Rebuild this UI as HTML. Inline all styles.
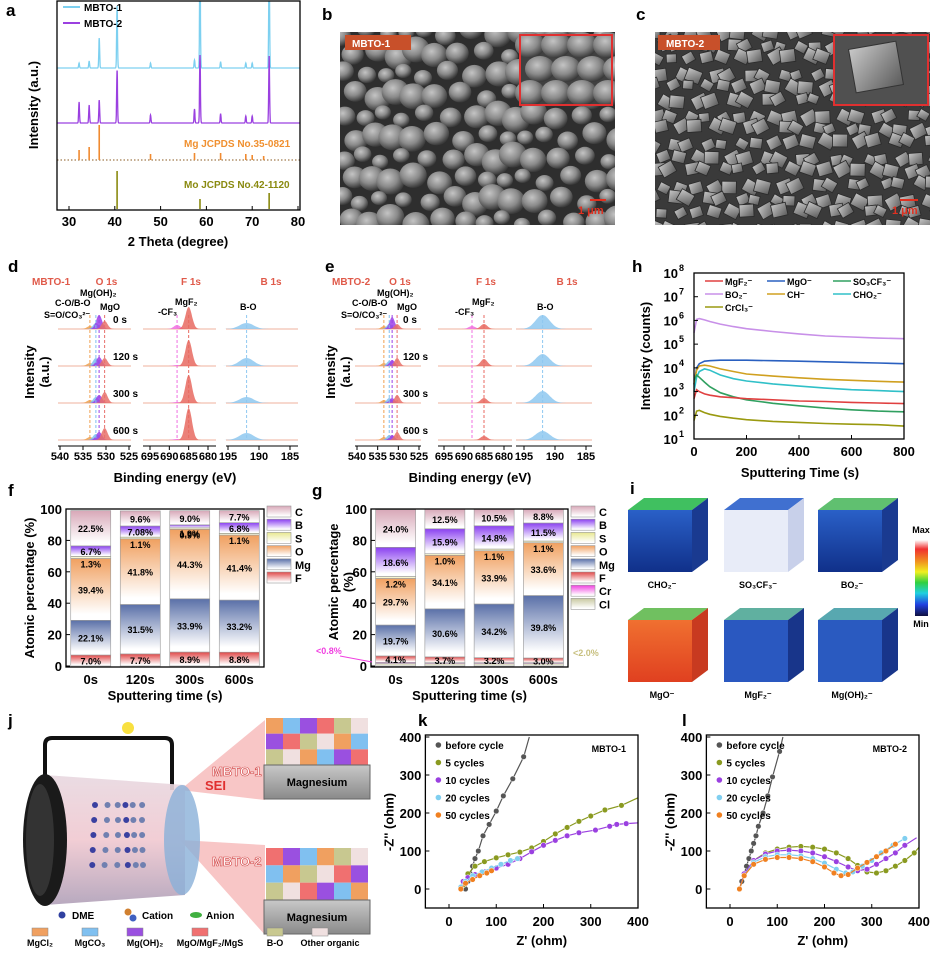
<!DOCTYPE html>
<html><head><meta charset="utf-8">
<style>
body{margin:0;background:#fff}
svg{font-family:"Liberation Sans",Arial,sans-serif;font-weight:bold;display:block}
</style></head>
<body>
<svg id="fig" width="952" height="963" viewBox="0 0 952 963" xmlns="http://www.w3.org/2000/svg">
<defs>
  <radialGradient id="grain" cx="40%" cy="35%" r="65%"><stop offset="0" stop-color="#c4c4c4"/><stop offset="0.55" stop-color="#8a8a8a"/><stop offset="1" stop-color="#3a3a3a"/></radialGradient>
  <linearGradient id="cryst" x1="0" y1="0" x2="1" y2="1"><stop offset="0" stop-color="#c8c8c8"/><stop offset="1" stop-color="#5a5a5a"/></linearGradient>
  <linearGradient id="cbar" x1="0" y1="0" x2="0" y2="1"><stop offset="0" stop-color="#fff"/><stop offset="0.12" stop-color="#f03030"/><stop offset="0.28" stop-color="#f09020"/><stop offset="0.42" stop-color="#f0f020"/><stop offset="0.56" stop-color="#30d040"/><stop offset="0.7" stop-color="#20d0e0"/><stop offset="0.85" stop-color="#2040e0"/><stop offset="1" stop-color="#101040"/></linearGradient>
  <linearGradient id="cubeBlue" x1="0" y1="0" x2="0" y2="1"><stop offset="0" stop-color="#2a60c8"/><stop offset="1" stop-color="#10308a"/></linearGradient>
  <linearGradient id="cubeRed" x1="0" y1="0" x2="0" y2="1"><stop offset="0" stop-color="#f07030"/><stop offset="1" stop-color="#e04020"/></linearGradient>
  <linearGradient id="cyl" x1="0" y1="0" x2="0" y2="1"><stop offset="0" stop-color="#e8d8e0"/><stop offset="0.5" stop-color="#f0c8d0"/><stop offset="1" stop-color="#b0a0b8"/></linearGradient>
  <linearGradient id="mgblock" x1="0" y1="0" x2="0" y2="1"><stop offset="0" stop-color="#c8c8c8"/><stop offset="1" stop-color="#8a8a8a"/></linearGradient>
  <clipPath id="clipB"><rect x="340" y="32" width="275" height="193"/></clipPath>
  <clipPath id="clipC"><rect x="655" y="32" width="275" height="193"/></clipPath>
  <clipPath id="clipA"><rect x="57" y="1" width="243" height="209"/></clipPath>
</defs>
<g id="root"></g>
</svg>
<script>
const NS='http://www.w3.org/2000/svg';
const svg=document.getElementById('root');
function mk(tag,attrs,parent){const e=document.createElementNS(NS,tag);for(const k in attrs)e.setAttribute(k,attrs[k]);(parent||svg).appendChild(e);return e;}
function tx(s,x,y,attrs,parent){const a=Object.assign({x:x,y:y,'font-size':12,fill:'#000'},attrs||{});const e=mk('text',a,parent);e.textContent=s;return e;}
function fmt(v){return Number.isInteger(Math.round(v*100)/10)?v.toFixed(1):String(v);}

/* ================= DATA ================= */
const xrdPeakPos=[32.2,34.4,36.6,40.5,47.8,57.4,58.6,63.1,68.6,70.0,73.7];
const xrd1Heights=[5,7,30,63,5,8,110,6,5,5,110];
const xrd2Heights=[21,18,23,53,8,14,68,9,7,7,68];
const mgRefPos=[32.2,34.4,36.6,47.8,57.4,63.1,68.6,70.0,72.5];
const mgRefInt=[10,13,35,6,7,7,6,5,4];
const moRefPos=[40.5,58.6,73.7];
const moRefInt=[38,10,16];
const xrdTicks=[30,40,50,60,70,80];
const xpsRowLabels=['0 s','120 s','300 s','600 s'];
const o1sCenters=[533.5,532.2,531.5,530.3];
const f1sCenters=[688,685];
const b1sCenters=[192];
const dO1sHeights=[[3,6,14,8],[3,8,9,8],[3,6,8,11],[3,6,8,12]];
const dF1sHeights=[[4,22],[1,26],[1,28],[1,32]];
const dB1sHeights=[[6],[8],[6],[7]];
const eO1sHeights=[[3,5,12,5],[3,5,6,8],[3,5,5,8],[3,5,5,8]];
const eF1sHeights=[[3,5],[0,7],[0,5],[0,4]];
const eB1sHeights=[[14],[12],[12],[9]];
const tofTimes=[0,10,20,40,60,100,150,200,300,400,500,600,700,800];
const tofMgF2=[500,1200,1000,800,700,600,550,500,450,400,380,350,330,310];
const tofMgO=[2000,10000,15000,19000,20000,21000,21000,21000,20000,19000,18000,17000,16000,15000];
const tofSO3CF3=[3000,5000,4000,2500,1600,900,600,450,320,250,200,170,150,140];
const tofBO2=[300000,1100000,1200000,1050000,900000,700000,550000,450000,340000,270000,220000,200000,180000,170000];
const tofCH=[2000,8000,12000,13000,12000,9000,7000,5500,4500,3800,3300,3000,2700,2500];
const tofCHO2=[1000,4000,7000,9000,8000,5000,3500,2800,2100,1700,1400,1200,1100,1000];
const tofCrCl3=[60,150,160,130,110,90,75,65,55,50,45,42,40,35];
const tofXTicks=[0,200,400,600,800];
const tofYTicks=[1,2,3,4,5,6,7,8];
const sputterCats=['0s','120s','300s','600s'];
const fF=[7.0,7.7,8.9,8.8], fMg=[22.1,31.5,33.9,33.2], fO=[39.4,41.8,44.3,41.4], fS=[1.3,1.1,0.9,1.1], fB=[6.7,7.08,1.9,6.8], fC=[22.5,9.6,9.0,7.7];
const gCl=[1.5,1.5,1.5,1.5], gCr=[0.8,0.6,0.6,0.6], gF=[4.1,3.7,3.2,3.0], gMg=[19.7,30.6,34.2,39.8], gO=[29.7,34.1,33.9,33.6], gS=[1.2,1.0,1.1,1.1], gB=[18.6,15.9,14.8,11.5], gC=[24.0,12.5,10.5,8.8];
const pctTicks=[0,20,40,60,80,100];
const eisNames=['before cycle','5 cycles','10 cycles','20 cycles','50 cycles'];
const kBefore=[[35,0],[40,20],[45,40],[50,60],[55,80],[62,100],[72,140],[85,170],[100,205],[115,245],[135,290],[158,348],[170,400]];
const k5=[[30,10],[40,40],[55,60],[75,72],[100,82],[125,90],[150,97],[175,108],[200,125],[225,145],[250,162],[275,178],[300,192],[330,208],[365,220],[400,240]];
const k10=[[30,20],[40,30],[55,38],[75,45],[100,55],[125,65],[150,80],[175,98],[200,115],[225,128],[250,140],[275,148],[310,155],[340,165],[355,170],[375,172],[400,174]];
const k20=[[25,5],[35,20],[50,35],[70,45],[90,55],[110,65],[130,75],[145,80]];
const k50=[[25,0],[35,15],[50,25],[65,35],[80,42],[90,48]];
const lBefore=[[20,0],[25,20],[30,40],[35,60],[40,80],[45,100],[50,120],[55,140],[60,165],[70,200],[80,245],[90,295],[105,362],[112,400]];
const l5=[[20,0],[30,40],[50,75],[75,95],[100,105],[125,110],[150,112],[175,110],[200,105],[225,95],[250,80],[270,62],[290,45],[310,42],[330,48],[350,60],[370,75],[390,95],[400,110]];
const l10=[[20,0],[30,40],[50,75],[75,92],[100,100],[125,102],[150,100],[175,95],[200,85],[225,72],[250,58],[270,48],[290,52],[310,65],[330,80],[350,95],[370,115],[395,135]];
const l20=[[20,0],[30,35],[50,70],[75,85],[100,90],[125,90],[150,87],[175,80],[200,68],[225,52],[245,42],[260,45],[280,60],[300,75],[320,95],[345,115],[370,133]];
const l50=[[20,0],[30,35],[50,65],[75,78],[100,83],[125,83],[150,80],[175,72],[200,58],[220,42],[235,35],[250,38],[270,55],[290,70],[310,85],[330,100],[350,118]];
const eisXTicks=[0,100,200,300,400];
const eisYTicks=[0,100,200,300,400];

/* ================= PANEL LETTERS ================= */
const letters=[['a',6,16],['b',322,20],['c',636,20],['d',8,272],['e',325,272],['h',632,272],['f',8,496],['g',312,496],['i',630,494],['j',8,726],['k',418,726],['l',682,726]];
letters.forEach(l=>{const t=tx(l[0],l[1],l[2],{'font-size':17});

});

/* ================= PANEL A ================= */
(function(){
const g=mk('g',{});


const ax=v=>69+(v-30)*4.58;
function trace(base,heights,color,name){
  let d='';
  for(let x=27.4;x<=80.4;x+=0.04){let y=base;xrdPeakPos.forEach((p,i)=>{y-=heights[i]*Math.exp(-Math.pow((x-p)/0.13,2));});d+=(d?'L':'M')+ax(x).toFixed(1)+','+y.toFixed(1);}
  const p=mk('path',{d:d,fill:'none',stroke:color,'stroke-width':1.3,'clip-path':'url(#clipA)'},g);
  
  
}
trace(68,xrd1Heights,'#7dd0f0','mbto1-xrd-trace');
trace(123,xrd2Heights,'#9b40e0','mbto2-xrd-trace');
const dl=mk('line',{x1:57,x2:300,y1:160,y2:160,stroke:'#8a5a20','stroke-width':1,'stroke-dasharray':'1.5,2'},g);


mgRefPos.forEach((p,i)=>{const b=mk('line',{x1:ax(p),x2:ax(p),y1:160,y2:160-mgRefInt[i],stroke:'#f08a30','stroke-width':1.6},g);

});
moRefPos.forEach((p,i)=>{const b=mk('line',{x1:ax(p),x2:ax(p),y1:209,y2:209-moRefInt[i],stroke:'#8a8a10','stroke-width':1.6},g);

});
const fr=mk('rect',{x:57,y:1,width:243,height:209,fill:'none',stroke:'#000','stroke-width':1.3},g);


xrdTicks.forEach(v=>{mk('line',{x1:ax(v),x2:ax(v),y1:210,y2:206,stroke:'#000'},g);
const t=tx(String(v),ax(v),226,{'font-size':13,'text-anchor':'middle'},g);

});
let t=tx('2 Theta (degree)',178,246,{'font-size':13,'text-anchor':'middle'},g);


t=tx('Intensity (a.u.)',0,0,{'font-size':13,'text-anchor':'middle',transform:'translate(38,105) rotate(-90)'},g);


mk('line',{x1:63,x2:80,y1:7,y2:7,stroke:'#7dd0f0','stroke-width':2},g);
t=tx('MBTO-1',84,11,{'font-size':10},g);


mk('line',{x1:63,x2:80,y1:23,y2:23,stroke:'#9b40e0','stroke-width':2},g);
t=tx('MBTO-2',84,27,{'font-size':10},g);


t=tx('Mg JCPDS No.35-0821',184,147,{'font-size':10,fill:'#f09030'},g);


t=tx('Mo JCPDS No.42-1120',184,188,{'font-size':10,fill:'#8a8a10'},g);


})();

/* ================= SEM b,c ================= */
(function(){
const gb=mk('g',{'clip-path':'url(#clipB)'});


mk('rect',{x:340,y:32,width:275,height:193,fill:'#2e2e2e'},gb);
for(let i=0;i<10;i++)for(let j=0;j<13;j++){
  const cx=340+j*22+(i%2)*11+5*Math.sin(i*12.9+j*7.3), cy=32+i*21+4*Math.cos(i*5.1+j*3.7);
  const r=10+3*Math.sin(i*3.1+j*5.7);
  mk('ellipse',{cx:cx,cy:cy,rx:r+1,ry:r,fill:'url(#grain)'},gb);}
mk('rect',{x:345,y:35,width:66,height:15,fill:'#c8502a'},gb);
let t=tx('MBTO-1',352,47,{'font-size':10,fill:'#fff'},gb);


mk('rect',{x:520,y:35,width:92,height:70,fill:'#404040'},gb);
for(let i=0;i<3;i++)for(let j=0;j<4;j++){mk('ellipse',{cx:530+j*26+(i%2)*10,cy:45+i*24,rx:15,ry:13,fill:'url(#grain)'},gb);}
mk('rect',{x:520,y:35,width:92,height:70,fill:'none',stroke:'#e03030','stroke-width':2},gb);
mk('line',{x1:590,x2:606,y1:200,y2:200,stroke:'#e03020','stroke-width':2},gb);
t=tx('1 μm',578,214,{'font-size':11,fill:'#e03020'},gb);



const gc=mk('g',{'clip-path':'url(#clipC)'});


mk('rect',{x:655,y:32,width:275,height:193,fill:'#3a3a3a'},gc);
for(let i=0;i<15;i++)for(let j=0;j<17;j++){
  const cx=655+j*17+(i%2)*8+4*Math.sin(i*7.7+j*3.3), cy=32+i*14+3*Math.cos(i*2.3+j*6.1);
  const s=10+5*Math.abs(Math.sin(i*1.7+j*2.9)); const rot=30*Math.sin(i*4.1+j*1.3);
  mk('rect',{x:cx-s/2,y:cy-s/2,width:s,height:s*0.85,fill:'url(#cryst)',stroke:'#2a2a2a','stroke-width':0.8,transform:'rotate('+rot.toFixed(1)+' '+cx.toFixed(1)+' '+cy.toFixed(1)+')'},gc);}
mk('rect',{x:658,y:35,width:62,height:15,fill:'#c8502a'},gc);
t=tx('MBTO-2',666,47,{'font-size':10,fill:'#fff'},gc);


mk('rect',{x:834,y:35,width:94,height:70,fill:'#505050'},gc);
mk('rect',{x:852,y:45,width:48,height:44,fill:'url(#cryst)',stroke:'#333',transform:'rotate(-10 876 67)'},gc);
mk('rect',{x:834,y:35,width:94,height:70,fill:'none',stroke:'#e03030','stroke-width':2},gc);
mk('line',{x1:900,x2:918,y1:200,y2:200,stroke:'#e03020','stroke-width':2},gc);
t=tx('1 μm',892,214,{'font-size':11,fill:'#e03020'},gc);


})();

/* ================= PANELS d/e ================= */
function xpsPanel(prefix,title,titleX,subs,rowsY){
  const g=mk('g',{});
  
  
  let t=tx(title,titleX,285,{'font-size':10,fill:'#e05a4a'},g);
  
  
  subs.forEach(s=>{
    const map=v=>s.x0+(s.e0-v)/(s.e0-s.e1)*(s.x1-s.x0);
    t=tx(s.name,(s.x0+s.x1)/2+12,285,{'font-size':10,fill:'#e05a4a','text-anchor':'middle'},g);
    
    
    rowsY.forEach((by,r)=>{
      mk('line',{x1:s.ax0,x2:s.ax1,y1:by,y2:by,stroke:'#f2c0b0','stroke-width':1.2},g);
      s.centers.forEach((c,k)=>{
        const h=s.heights[r][k]; if(!h)return;
        let d='M'+map(c-3*s.w)+','+by;
        for(let v=c-3*s.w;v<=c+3*s.w;v+=s.w/8){d+='L'+map(v).toFixed(1)+','+(by-h*Math.exp(-Math.pow((v-c)/s.w,2))).toFixed(1);}
        d+='L'+map(c+3*s.w)+','+by+'Z';
        const p=mk('path',{d:d,fill:s.colors[k],'fill-opacity':0.85},g);
        
        
      });
    });
    s.centers.forEach((c,k)=>{mk('line',{x1:map(c),x2:map(c),y1:rowsY[0]-14,y2:rowsY[3],stroke:s.colors[k],'stroke-width':1,'stroke-dasharray':'3,2'},g);});
    mk('line',{x1:s.ax0,x2:s.ax1,y1:446,y2:446,stroke:'#000','stroke-width':1},g);
    s.ticks.forEach(v=>{mk('line',{x1:map(v),x2:map(v),y1:446,y2:450,stroke:'#000'},g);
      t=tx(String(v),map(v),460,{'font-size':11,'text-anchor':'middle'},g);
      
      });
  });
  xpsRowLabels.forEach((l,r)=>{t=tx(l,subs[0].x1-16,rowsY[r]-6,{'font-size':10},g);
    
    });
  return g;
}
const dRows=[329,366,403,440];
const oCols=['#f0a050','#7fbfef','#9b40e8','#e8706a'];
xpsPanel('d','MBTO-1',32,[
 {name:'O 1s',e0:540,e1:525,x0:60,x1:129,ax0:58,ax1:131,centers:o1sCenters,heights:dO1sHeights,w:0.9,colors:oCols,ticks:[540,535,530,525]},
 {name:'F 1s',e0:695,e1:680,x0:150,x1:208,ax0:143,ax1:216,centers:f1sCenters,heights:dF1sHeights,w:1.2,colors:['#f070e0','#e86a60'],ticks:[695,690,685,680]},
 {name:'B 1s',e0:195,e1:185,x0:228,x1:290,ax0:226,ax1:298,centers:b1sCenters,heights:dB1sHeights,w:1.6,colors:['#8ec8f0'],ticks:[195,190,185]}],dRows);
xpsPanel('e','MBTO-2',332,[
 {name:'O 1s',e0:540,e1:525,x0:357,x1:419,ax0:355,ax1:421,centers:o1sCenters,heights:eO1sHeights,w:0.9,colors:oCols,ticks:[540,535,530,525]},
 {name:'F 1s',e0:695,e1:680,x0:444,x1:504,ax0:438,ax1:512,centers:f1sCenters,heights:eF1sHeights,w:1.2,colors:['#f070e0','#e86a60'],ticks:[695,690,685,680]},
 {name:'B 1s',e0:195,e1:185,x0:524,x1:586,ax0:516,ax1:592,centers:b1sCenters,heights:eB1sHeights,w:1.6,colors:['#8ec8f0'],ticks:[195,190,185]}],dRows);
[[22,'d'],[323,'e']].forEach(o=>{
  const x=o[0];
  let t=tx('Intensity',0,0,{'font-size':13,'text-anchor':'middle',transform:'translate('+(x+12)+',372) rotate(-90)'});
  
  
  t=tx('(a.u.)',0,0,{'font-size':13,'text-anchor':'middle',transform:'translate('+(x+27)+',372) rotate(-90)'});
  
  
  const bx=o[1]==='d'?175:470;
  t=tx('Binding energy (eV)',bx,482,{'font-size':13,'text-anchor':'middle'});
  
  
  const ox=o[1]==='d'?0:297;
  const anns=[['Mg(OH)₂',80,296],['C-O/B-O',55,306],['MgO',100,310],['S=O/CO₃²⁻',44,318]];
  anns.forEach(a=>{const tt=tx(a[0],a[1]+ox,a[2],{'font-size':9});
    
    });
  const fx=ox;
  let a1=tx('MgF₂',175+fx,305,{'font-size':9});
  
  
  a1=tx('-CF₃',158+fx,315,{'font-size':9});
  
  
  a1=tx('B-O',240+fx,310,{'font-size':9});
  
  
});

/* ================= PANEL h ================= */
(function(){
const g=mk('g',{});


const X0=694,X1=904,Y0=439,Y1=273;
const hx=t=>X0+t/800*(X1-X0);
const hy=v=>Y0-(Math.log10(v)-1)/7*(Y0-Y1);
const series=[[tofBO2,'#c890e8','BO2'],[tofMgO,'#2a60c0','MgO'],[tofCH,'#d0a020','CH'],[tofCHO2,'#30c0c8','CHO2'],[tofSO3CF3,'#30a060','SO3CF3'],[tofMgF2,'#e04040','MgF2'],[tofCrCl3,'#9a9a10','CrCl3']];
series.forEach(s=>{
  const d=s[0].map((v,i)=>(i?'L':'M')+hx(tofTimes[i]).toFixed(1)+','+hy(v).toFixed(1)).join('');
  const p=mk('path',{d:d,fill:'none',stroke:s[1],'stroke-width':1.6},g);
  
  
});
mk('rect',{x:X0,y:Y1,width:X1-X0,height:Y0-Y1,fill:'none',stroke:'#000','stroke-width':1.3},g);
tofXTicks.forEach(v=>{mk('line',{x1:hx(v),x2:hx(v),y1:Y0,y2:Y0-4,stroke:'#000'},g);
  const t=tx(String(v),hx(v),456,{'font-size':13,'text-anchor':'middle'},g);
  
  });
tofYTicks.forEach(v=>{const y=Y0-(v-1)/7*(Y0-Y1);mk('line',{x1:X0,x2:X0+4,y1:y,y2:y,stroke:'#000'},g);
  const t=tx('10',X0-16,y+5,{'font-size':13,'text-anchor':'end'},g);
  
  
  const s=tx(String(v),X0-15,y-2,{'font-size':9},g);
  
  });
let t=tx('Intensity (counts)',0,0,{'font-size':13,'text-anchor':'middle',transform:'translate(650,356) rotate(-90)'},g);


t=tx('Sputtering Time (s)',800,477,{'font-size':13,'text-anchor':'middle'},g);


const leg=[['MgF₂⁻','#e04040',705,281],['MgO⁻','#2a60c0',767,281],['SO₃CF₃⁻','#30a060',833,281],['BO₂⁻','#c890e8',705,294],['CH⁻','#d0a020',767,294],['CHO₂⁻','#30c0c8',833,294],['CrCl₃⁻','#9a9a10',705,307]];
leg.forEach(l=>{mk('line',{x1:l[2],x2:l[2]+18,y1:l[3],y2:l[3],stroke:l[1],'stroke-width':1.5},g);
  const tt=tx(l[0],l[2]+20,l[3]+4,{'font-size':9},g);
  
  });
})();

/* ================= PANELS f/g ================= */
const stackColors={C:'#d8a8b8',B:'#8a40f0',S:'#e8e890',O:'#f0a060',Mg:'#5a70a8',F:'#e04848',Cr:'#f040e0',Cl:'#c8c8a0'};
function stackPanel(prefix,ax0,ax1,series,names,legendNames,legX){
  const g=mk('g',{});
  
  
  const yv=v=>666-v*1.57;
  const step=(ax1-ax0)/4;
  Object.keys(stackColors).forEach(k=>{const lg=mk('linearGradient',{id:prefix+'g'+k,x1:0,y1:0,x2:0,y2:1},g);
    mk('stop',{offset:0,'stop-color':stackColors[k]},lg);mk('stop',{offset:0.9,'stop-color':'#fff'},lg);});
  sputterCats.forEach((c,i)=>{
    const cx=ax0+step*(i+0.5); let acc=0;
    series.forEach((s,k)=>{
      const v=s[i], y0=yv(acc), y1=yv(acc+v);
      const r=mk('rect',{x:cx-20,y:y1,width:40,height:y0-y1,fill:'url(#'+prefix+'g'+names[k]+')',stroke:'#999','stroke-width':0.6},g);
      
      
      if(names[k]!=='Cr'&&names[k]!=='Cl'){
        const ly=v<3?y0+9:(y0+y1)/2+4;
        const t=tx(fmt(v)+'%',cx,ly,{'font-size':9,'text-anchor':'middle'},g);
        
        
      }
      acc+=v;
    });
    const t=tx(c,cx,684,{'font-size':13,'text-anchor':'middle'},g);
    
    
  });
  mk('rect',{x:ax0,y:509,width:ax1-ax0,height:158,fill:'none',stroke:'#000','stroke-width':1.3},g);
  pctTicks.forEach(v=>{mk('line',{x1:ax0,x2:ax0+4,y1:yv(v),y2:yv(v),stroke:'#000'},g);
    const t=tx(String(v),ax0-4,yv(v)+5,{'font-size':13,'text-anchor':'end'},g);
    
    });
  const t=tx('Sputtering time (s)',(ax0+ax1)/2,700,{'font-size':13,'text-anchor':'middle'},g);
  
  
  legendNames.forEach((n,i)=>{const y=506+i*13.2;
    const r=mk('rect',{x:legX,y:y,width:24,height:11,fill:'url(#'+prefix+'g'+n+')',stroke:'#999','stroke-width':0.6},g);
    
    
    const l=tx(n,legX+28,y+10,{'font-size':11},g);
    
    });
}
stackPanel('f',66,264,[fF,fMg,fO,fS,fB,fC],['F','Mg','O','S','B','C'],['C','B','S','O','Mg','F'],267);
stackPanel('g',371,568,[gCl,gCr,gF,gMg,gO,gS,gB,gC],['Cl','Cr','F','Mg','O','S','B','C'],['C','B','S','O','Mg','F','Cr','Cl'],571);
(function(){
let t=tx('Atomic percentage (%)',0,0,{'font-size':13,'text-anchor':'middle',transform:'translate(34,588) rotate(-90)'});


t=tx('Atomic percentage',0,0,{'font-size':13,'text-anchor':'middle',transform:'translate(338,582) rotate(-90)'});


t=tx('(%)',0,0,{'font-size':13,'text-anchor':'middle',transform:'translate(353,582) rotate(-90)'});


t=tx('<0.8%',316,654,{'font-size':9,fill:'#f040e0'});


mk('line',{x1:340,x2:372,y1:656,y2:662,stroke:'#f040e0'});
t=tx('<2.0%',573,656,{'font-size':9,fill:'#c8c080'});


})();

/* ================= PANEL i ================= */
(function(){
const g=mk('g',{});


const cubes=[['CHO₂⁻',628,510,'url(#cubeBlue)','#40c060','#1a3a90'],['SO₃CF₃⁻',724,510,'#e8ecf8','#4070d0','#c8d0ea'],['BO₂⁻',818,510,'url(#cubeBlue)','#60c070','#1a3a90'],
 ['MgO⁻',628,620,'url(#cubeRed)','#70c060','#c83a20'],['MgF₂⁻',724,620,'#2a58c0','#60b0a0','#18358a'],['Mg(OH)₂⁻',818,620,'#2a5ac0','#58a8b0','#18358a']];
cubes.forEach(c=>{const x=c[1],y=c[2],w=64,h=62,dx=16,dy=-12;
  const f=mk('rect',{x:x,y:y,width:w,height:h,fill:c[3]},g);
  
  
  mk('polygon',{points:`${x},${y} ${x+dx},${y+dy} ${x+w+dx},${y+dy} ${x+w},${y}`,fill:c[4]},g);
  mk('polygon',{points:`${x+w},${y} ${x+w+dx},${y+dy} ${x+w+dx},${y+h+dy} ${x+w},${y+h}`,fill:c[5]},g);
  const t=tx(c[0],x+34,y+h+16,{'font-size':9,'text-anchor':'middle'},g);
  
  });
const cb=mk('rect',{x:915,y:540,width:13,height:76,fill:'url(#cbar)'},g);


let t=tx('Max',921,533,{'font-size':9,'text-anchor':'middle'},g);


t=tx('Min',921,627,{'font-size':9,'text-anchor':'middle'},g);


})();

/* ================= PANEL j ================= */
(function(){
const g=mk('g',{});


mk('polygon',{points:'180,790 265,720 265,800',fill:'#f08080','fill-opacity':0.45},g);
mk('polygon',{points:'180,840 265,845 265,935',fill:'#f08080','fill-opacity':0.45},g);
mk('path',{d:'M45,790 V745 Q45,738 52,738 H165 Q172,738 172,745 V790',fill:'none',stroke:'#111','stroke-width':4},g);
const bulb=mk('circle',{cx:128,cy:728,r:6,fill:'#f8e040'},g);


const body=mk('path',{d:'M45,775 L185,785 L185,895 L45,905 Z',fill:'url(#cyl)','fill-opacity':0.9},g);


mk('ellipse',{cx:45,cy:840,rx:22,ry:66,fill:'#1a1a1a'},g);
mk('ellipse',{cx:40,cy:840,rx:14,ry:56,fill:'#333'},g);
mk('ellipse',{cx:182,cy:840,rx:18,ry:55,fill:'#8ab0d8','fill-opacity':0.8},g);
for(let i=0;i<30;i++){mk('circle',{cx:95+(i%6)*10+3*Math.sin(i),cy:805+Math.floor(i/6)*15,r:3,fill:i%3?'#7080b0':'#3a40a0'},g);}
let t=tx('SEI',205,790,{'font-size':13,fill:'#e03030'},g);


const sei=[['#f0a060','#80c0f0','#9a50e0','#f07070','#c8c890','#f0e0e0'],['#f07070','#9a50e0','#80c0f0','#f0a060','#c8c890','#f0e0e0']];
[[266,718,765],[266,848,900]].forEach((b,k)=>{
  for(let i=0;i<6;i++)for(let j=0;j<3;j++){mk('rect',{x:b[0]+i*17,y:b[1]+j*(b[2]-b[1])/3,width:17,height:(b[2]-b[1])/3,fill:sei[k][(i+j*2)%6]},g);}
  const m=mk('rect',{x:b[0]-2,y:b[2],width:106,height:34,fill:'url(#mgblock)',stroke:'#666'},g);
  
  
  const tt=tx('Magnesium',b[0]+51,b[2]+21,{'font-size':11,'text-anchor':'middle'},g);
  
  
});
t=tx('MBTO-1',212,776,{'font-size':13,fill:'#fff',stroke:'#d04040','stroke-width':0.6},g);


t=tx('MBTO-2',212,866,{'font-size':13,fill:'#fff',stroke:'#d04040','stroke-width':0.6},g);


mk('circle',{cx:62,cy:915,r:3.5,fill:'#3040a0'},g);
t=tx('DME',72,919,{'font-size':10},g);


mk('circle',{cx:128,cy:912,r:3.5,fill:'#d08030'},g);mk('circle',{cx:133,cy:918,r:3.5,fill:'#4060c0'},g);
t=tx('Cation',142,919,{'font-size':10},g);


mk('ellipse',{cx:196,cy:915,rx:6,ry:3,fill:'#40b040'},g);
t=tx('Anion',206,919,{'font-size':10},g);


const sl=[['MgCl₂','#f0a060',40],['MgCO₃','#80c0f0',90],['Mg(OH)₂','#9a50e0',135],['MgO/MgF₂/MgS','#f07070',200],['B-O','#c8c890',275],['Other organic','#f0e0e0',320]];
sl.forEach(s=>{mk('rect',{x:s[2]-8,y:928,width:16,height:8,fill:s[1],stroke:'#888','stroke-width':0.5},g);
  const tt=tx(s[0],s[2]+(s[0].length>6?10:0),946,{'font-size':9,'text-anchor':'middle'},g);
  
  });
})();

/* ================= PANELS k/l ================= */
const eisColors=['#555555','#8a9a20','#9a40e0','#80cff0','#f08020'];
function eisPanel(prefix,x0,data,tagLabel){
  const g=mk('g',{});
  
  
  const sx=v=>x0+v*0.4725, sy=v=>889-v*0.38;
  const L=sx(-50),R=sx(400),T=735,B=908;
  const cp=mk('clipPath',{id:'cp'+prefix},g);mk('rect',{x:L,y:T,width:R-L,height:B-T},cp);
  const pg=mk('g',{'clip-path':'url(#cp'+prefix+')'},g);
  data.forEach((ser,k)=>{
    const d=ser.map((p,i)=>(i?'L':'M')+sx(p[0]).toFixed(1)+','+sy(p[1]).toFixed(1)).join('');
    const ln=mk('path',{d:d,fill:'none',stroke:eisColors[k],'stroke-width':1.2},pg);
    
    
    ser.forEach((p,i)=>{if(i===ser.length-1&&(k<3))return;
      const c=mk('circle',{cx:sx(p[0]),cy:sy(p[1]),r:2.8,fill:eisColors[k],stroke:'#fff','stroke-width':0.5},pg);
      
      });
  });
  mk('rect',{x:L,y:T,width:R-L,height:B-T,fill:'none',stroke:'#000','stroke-width':1.3},g);
  eisXTicks.forEach(v=>{mk('line',{x1:sx(v),x2:sx(v),y1:B,y2:B-4,stroke:'#000'},g);
    const t=tx(String(v),sx(v),926,{'font-size':13,'text-anchor':'middle'},g);
    
    });
  eisYTicks.forEach(v=>{mk('line',{x1:L,x2:L+4,y1:sy(v),y2:sy(v),stroke:'#000'},g);
    const t=tx(String(v),L-4,sy(v)+5,{'font-size':13,'text-anchor':'end'},g);
    
    });
  eisNames.forEach((n,k)=>{const y=745+k*17.5;
    mk('circle',{cx:L+13,cy:y,r:2.8,fill:eisColors[k]},g);
    const t=tx(n,L+20,y+4,{'font-size':10},g);
    
    });
  let t=tx(tagLabel,R-12,752,{'font-size':9,'text-anchor':'end'},g);
  
  
  t=tx("Z' (ohm)",(L+R)/2+10,945,{'font-size':13,'text-anchor':'middle'},g);
  
  
  t=tx("-Z'' (ohm)",0,0,{'font-size':13,'text-anchor':'middle',transform:'translate('+(L-32)+',822) rotate(-90)'},g);
  
  
}
eisPanel('k',449,[kBefore,k5,k10,k20,k50],'MBTO-1');
eisPanel('l',730,[lBefore,l5,l10,l20,l50],'MBTO-2');
</script>
</body></html>
